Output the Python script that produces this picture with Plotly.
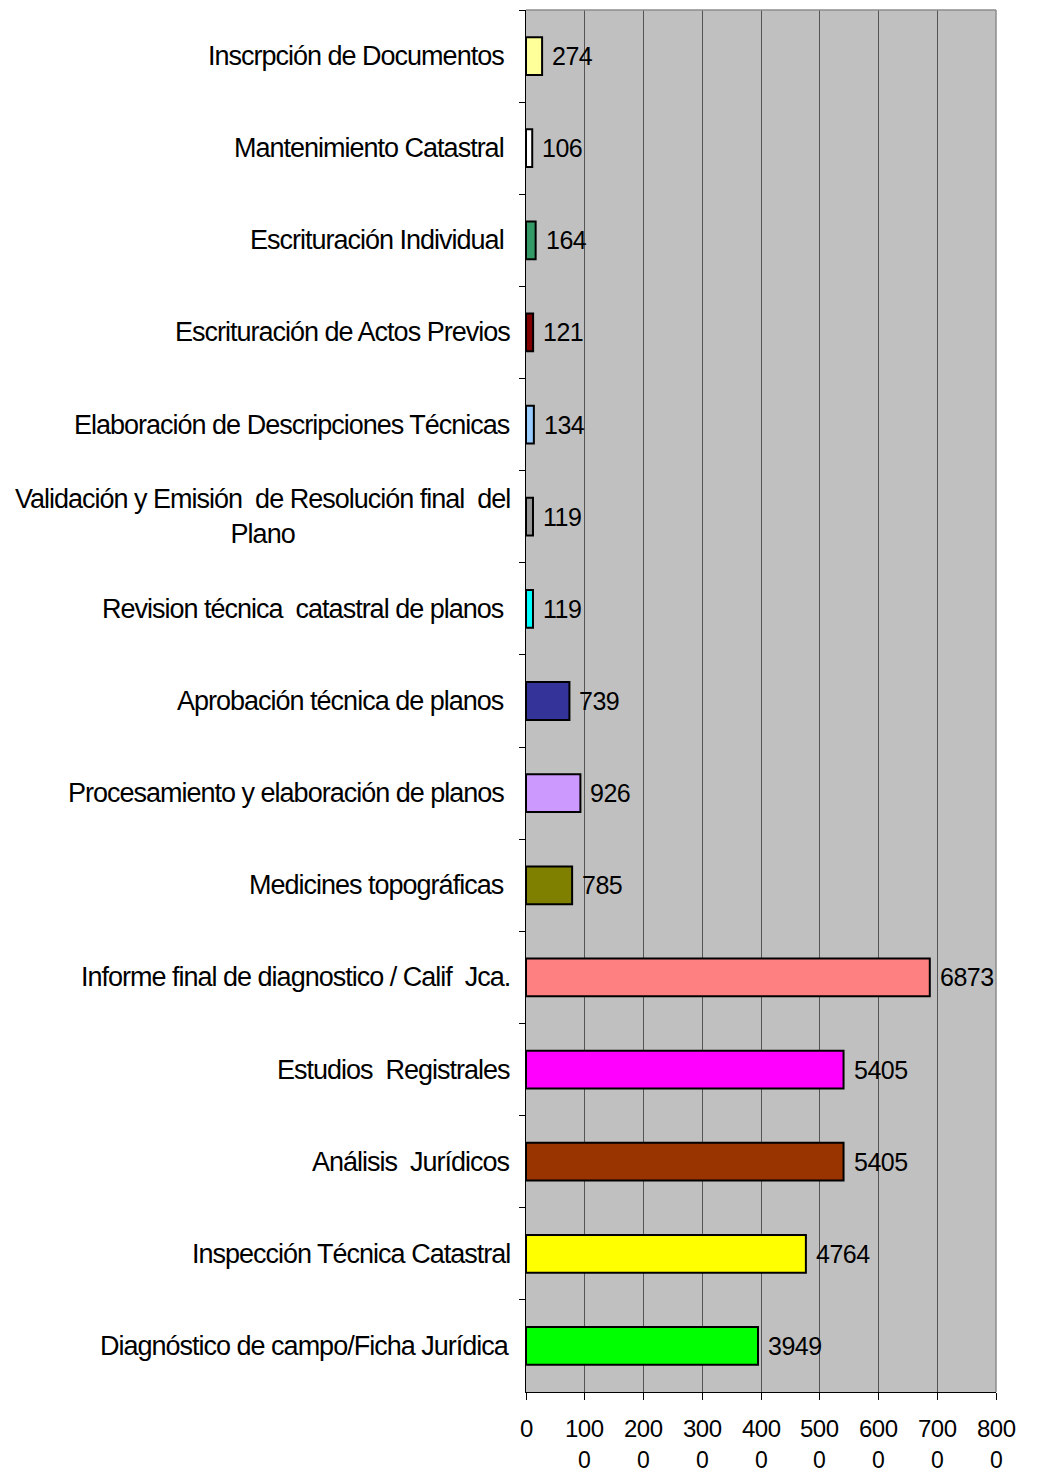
import plotly.graph_objects as go

# Data (top-to-bottom order as shown in the chart)
categories = [
    "Inscrpción de Documentos\u00a0",
    "Mantenimiento Catastral\u00a0",
    "Escrituración Individual\u00a0",
    "Escrituración de Actos Previos",
    "Elaboración de Descripciones Técnicas",
    "Validación y Emisión  de Resolución final  del<br>Plano",
    "Revision técnica  catastral de planos\u00a0",
    "Aprobación técnica de planos\u00a0",
    "Procesamiento y elaboración de planos\u00a0",
    "Medicines topográficas\u00a0",
    "Informe final de diagnostico / Calif  Jca.",
    "Estudios  Registrales",
    "Análisis  Jurídicos",
    "Inspección Técnica Catastral",
    "Diagnóstico de campo/Ficha Jurídica",
]
values = [274, 106, 164, 121, 134, 119, 119, 739, 926, 785, 6873, 5405, 5405, 4764, 3949]
colors = [
    "#FFFF99", "#FFFFFF", "#339966", "#800000", "#99CCFF", "#969696", "#00FFFF",
    "#333399", "#CC99FF", "#808000", "#FF8080", "#FF00FF", "#993300", "#FFFF00", "#00FF00",
]
tick_vals = [0, 1000, 2000, 3000, 4000, 5000, 6000, 7000, 8000]
tick_top = ["0", "100", "200", "300", "400", "500", "600", "700", "800"]
tick_bottom = ["", "0", "0", "0", "0", "0", "0", "0", "0"]

FONT = "Liberation Sans, Arial, sans-serif"

fig = go.Figure()
fig.add_trace(go.Bar(
    x=values,
    y=categories,
    orientation="h",
    width=0.41,
    marker=dict(color=colors, line=dict(color="black", width=2)),
    hoverinfo="x+y",
))

annotations = []
# Category labels
for cat in categories:
    annotations.append(dict(
        x=0, xref="paper", y=cat, yref="y",
        xanchor="right", yanchor="middle", xshift=-14,
        text='<span style="letter-spacing:-1px">' + cat.replace("<br>", '</span><br><span style="letter-spacing:-1px">') + '</span>',
        align="center", showarrow=False,
        font=dict(family=FONT, size=27, color="black"),
    ))
# Value labels
for cat, v in zip(categories, values):
    annotations.append(dict(
        x=v, xref="x", y=cat, yref="y",
        xanchor="left", yanchor="middle", xshift=8,
        text='<span style="letter-spacing:-0.5px">' + str(v) + '</span>',
        showarrow=False,
        font=dict(family=FONT, size=25, color="black"),
    ))
# X tick labels (two rows)
for tv, t1, t2 in zip(tick_vals, tick_top, tick_bottom):
    annotations.append(dict(
        x=tv, xref="x", y=0, yref="paper",
        xanchor="center", yanchor="middle", yshift=-36,
        text='<span style="letter-spacing:-0.5px">' + t1 + '</span>',
        showarrow=False, borderpad=0, borderwidth=0,
        font=dict(family=FONT, size=24, color="black"),
    ))
    if t2:
        annotations.append(dict(
            x=tv, xref="x", y=0, yref="paper",
            xanchor="center", yanchor="middle", yshift=-68,
            text=t2, showarrow=False, borderpad=0, borderwidth=0,
            font=dict(family=FONT, size=23, color="black"),
        ))

# The page body has an 8px default margin, so the figure is sized/offset to compensate.
fig.update_layout(
    width=1029, height=1464,
    margin=dict(l=518, r=41, t=2, b=80),
    paper_bgcolor="white",
    plot_bgcolor="#C0C0C0",
    showlegend=False,
    bargap=0.59,
    annotations=annotations,
    shapes=[
        dict(type="line", xref="paper", yref="paper", x0=0, x1=1, y0=1, y1=1,
             line=dict(color="#8C8C8C", width=1.5)),
        dict(type="line", xref="paper", yref="paper", x0=1, x1=1, y0=0, y1=1,
             line=dict(color="#8C8C8C", width=1.5)),
    ],
    xaxis=dict(
        range=[0, 8000], tickvals=tick_vals, showticklabels=False,
        showgrid=True, gridcolor="#555555", gridwidth=1.2,
        zeroline=False, showline=True, linecolor="black", linewidth=1.2,
        ticks="outside", ticklen=7, tickcolor="black", tickwidth=1.2,
        fixedrange=True,
    ),
    yaxis=dict(
        autorange="reversed", showticklabels=False, showgrid=False,
        tickson="boundaries", ticks="outside", ticklen=6, tickcolor="black", tickwidth=1.2,
        showline=True, linecolor="black", linewidth=1.2, zeroline=False,
        fixedrange=True,
    ),
)

fig.write_html("out.html")
